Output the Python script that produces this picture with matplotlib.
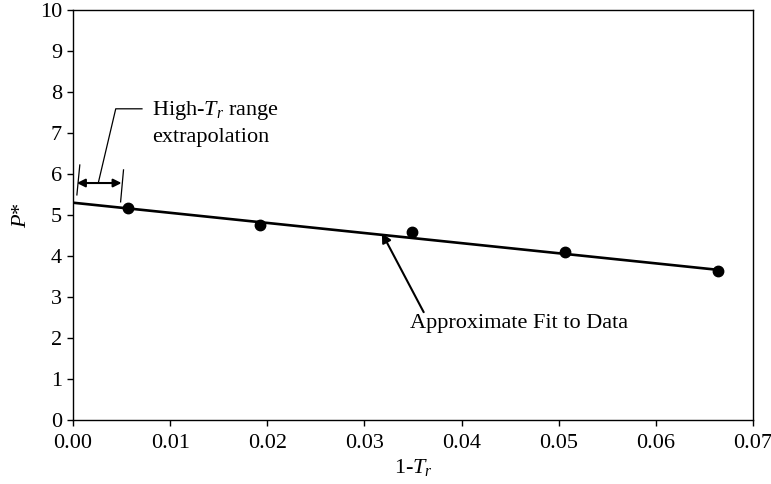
import matplotlib
matplotlib.use("Agg")
import matplotlib.pyplot as plt

plt.rcParams['font.family'] = ['Liberation Serif', 'DejaVu Serif']
plt.rcParams['mathtext.fontset'] = 'custom'
plt.rcParams['mathtext.rm'] = 'Liberation Serif'
plt.rcParams['mathtext.it'] = 'Liberation Serif:italic'

# data
x_data = [0.0057, 0.0193, 0.0349, 0.0506, 0.0664]
p_data = [5.17, 4.76, 4.59, 4.10, 3.63]
fit_x = [0.0, 0.0665]
fit_y = [5.30, 3.66]
x_ticks = [0.00, 0.01, 0.02, 0.03, 0.04, 0.05, 0.06, 0.07]
x_ticklabels = ["0.00", "0.01", "0.02", "0.03", "0.04", "0.05", "0.06", "0.07"]
y_ticks = list(range(0, 11))

fig = plt.figure(figsize=(7.71, 4.84), dpi=100)
ax = fig.add_axes([73/771, 1-420/484, (753-73)/771, (420-10)/484])

ax.plot(fit_x, fit_y, color='black', lw=1.9, solid_capstyle='butt')
ax.plot(x_data, p_data, 'o', color='black', ms=7.5)

ax.set_xlim(0, 0.07)
ax.set_ylim(0, 10)
ax.set_xticks(x_ticks)
ax.set_xticklabels(x_ticklabels)
ax.set_yticks(y_ticks)
ax.tick_params(axis='both', direction='out', length=4, width=1, labelsize=16,
               top=False, right=False)
ax.tick_params(axis='x', pad=6)
ax.tick_params(axis='y', pad=4)
for s in ax.spines.values():
    s.set_linewidth(1.0)

ax.set_xlabel(r"1-$T_r$", fontsize=16, labelpad=3)
ax.set_ylabel(r"$P$*", fontsize=16, labelpad=6)

# Approximate fit annotation
ax.annotate("", xy=(0.0318, 4.56), xytext=(0.0361, 2.63),
            arrowprops=dict(arrowstyle='-|>', color='black', lw=1.5,
                            mutation_scale=14, shrinkA=0, shrinkB=0))
ax.text(0.0347, 2.35, "Approximate Fit to Data", fontsize=16, ha='left', va='center')

# High-Tr range extrapolation annotation
ax.annotate("", xy=(0.0004, 5.78), xytext=(0.0050, 5.78),
            arrowprops=dict(arrowstyle='<|-|>', color='black', lw=1.5,
                            mutation_scale=12, shrinkA=0, shrinkB=0))
ax.plot([0.0007, 0.0004], [6.22, 5.49], color='black', lw=0.9)
ax.plot([0.0052, 0.0049], [6.10, 5.32], color='black', lw=0.9)
ax.plot([0.0026, 0.0044, 0.0071], [5.78, 7.59, 7.59], color='black', lw=0.9)
ax.text(0.0081, 7.56, r"High-$T_r$ range", fontsize=16, ha='left', va='center')
ax.text(0.0081, 6.90, "extrapolation", fontsize=16, ha='left', va='center')

fig.savefig("out.png", dpi=100)
